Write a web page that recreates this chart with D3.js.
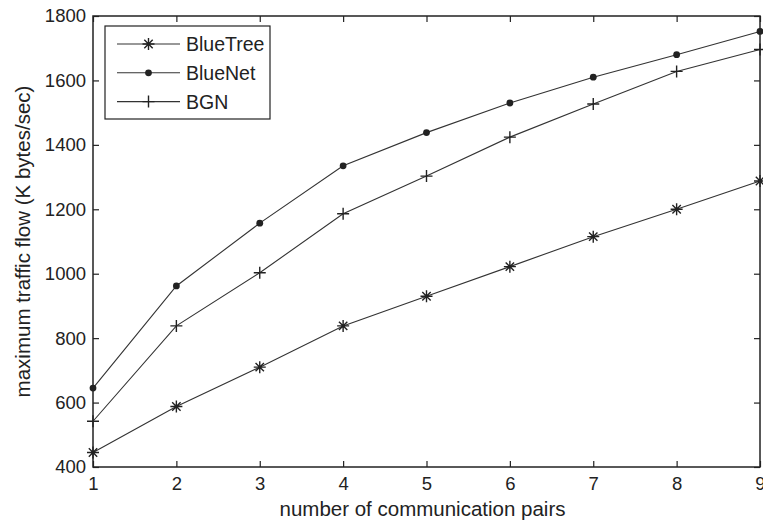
<!DOCTYPE html>
<html>
<head>
<meta charset="utf-8">
<script src="https://cdn.jsdelivr.net/npm/d3@7"></script>
<style>
  html, body { margin: 0; padding: 0; background: #fff; }
  svg { display: block; }
  text { font-family: Arial, "Liberation Sans", Helvetica, sans-serif; fill: #222; }
</style>
</head>
<body>
<svg id="chart" width="763" height="525"></svg>
<script>
// Communication pairs on the x axis
const pairs = [1, 2, 3, 4, 5, 6, 7, 8, 9];

// Maximum traffic flow (K bytes/sec) per routing scheme
const blueTree = [445, 588, 710, 838, 930, 1022, 1115, 1200, 1288];
const blueNet  = [645, 962, 1157, 1335, 1438, 1530, 1610, 1680, 1752];
const bgn      = [542, 838, 1003, 1186, 1303, 1424, 1527, 1628, 1696];

const yTicks = [400, 600, 800, 1000, 1200, 1400, 1600, 1800];
const seriesNames = ["BlueTree", "BlueNet", "BGN"];
const seriesMarkers = ["asterisk", "dot", "plus"];

const svg = d3.select("#chart");
const plotL = 93, plotR = 760, plotT = 16, plotB = 467;

const x = d3.scaleLinear().domain([1, 9]).range([plotL, plotR]);
const y = d3.scaleLinear().domain([400, 1800]).range([plotB, plotT]);

const ink = "#222";
const tickLen = 6;

// Axes with inward ticks on all four sides
const axB = d3.axisBottom(x).tickValues(pairs).tickSize(-tickLen).tickPadding(10).tickFormat(d3.format("d"));
const axT = d3.axisTop(x).tickValues(pairs).tickSize(-tickLen).tickFormat("");
const axL = d3.axisLeft(y).tickValues(yTicks).tickSize(-tickLen).tickPadding(7).tickFormat(d3.format("d"));
const axR = d3.axisRight(y).tickValues(yTicks).tickSize(-tickLen).tickFormat("");

function styleAxis(g) {
  g.select(".domain").remove();
  g.selectAll(".tick line").attr("stroke", ink).attr("stroke-width", 1.2);
  g.selectAll(".tick text").attr("fill", ink).style("font-size", "18.5px");
}

svg.append("g").attr("transform", `translate(0,${plotB})`).call(axB).call(styleAxis);
svg.append("g").attr("transform", `translate(0,${plotT})`).call(axT).call(styleAxis);
svg.append("g").attr("transform", `translate(${plotL},0)`).call(axL).call(styleAxis);
svg.append("g").attr("transform", `translate(${plotR},0)`).call(axR).call(styleAxis);

// Plot frame
svg.append("rect")
  .attr("x", plotL).attr("y", plotT)
  .attr("width", plotR - plotL).attr("height", plotB - plotT)
  .attr("fill", "none").attr("stroke", ink).attr("stroke-width", 1.5);

// Marker drawing
function drawMarker(g, type, cx, cy) {
  if (type === "dot") {
    g.append("circle").attr("cx", cx).attr("cy", cy).attr("r", 3.4).attr("fill", ink);
  } else if (type === "plus") {
    const s = 6;
    g.append("path")
      .attr("d", `M${cx - s},${cy}H${cx + s}M${cx},${cy - s}V${cy + s}`)
      .attr("stroke", ink).attr("stroke-width", 1.4).attr("fill", "none");
  } else {
    const s = 6, d = 4.2;
    g.append("path")
      .attr("d", `M${cx - s},${cy}H${cx + s}M${cx},${cy - s}V${cy + s}` +
                 `M${cx - d},${cy - d}L${cx + d},${cy + d}M${cx - d},${cy + d}L${cx + d},${cy - d}`)
      .attr("stroke", ink).attr("stroke-width", 1.4).attr("fill", "none");
  }
}

const allSeries = [blueTree, blueNet, bgn];
const line = d3.line().x((d, i) => x(pairs[i])).y(d => y(d));

allSeries.forEach((vals, k) => {
  const g = svg.append("g");
  g.append("path").datum(vals)
    .attr("d", line)
    .attr("fill", "none").attr("stroke", "#333").attr("stroke-width", 1.1);
  vals.forEach((v, i) => drawMarker(g, seriesMarkers[k], x(pairs[i]), y(v)));
});

// Legend
const lg = svg.append("g");
lg.append("rect")
  .attr("x", 105).attr("y", 26).attr("width", 165).attr("height", 93)
  .attr("fill", "#fff").attr("stroke", ink).attr("stroke-width", 1.2);
seriesNames.forEach((name, k) => {
  const ly = 44 + k * 28.8;
  lg.append("line").attr("x1", 117).attr("x2", 180).attr("y1", ly).attr("y2", ly)
    .attr("stroke", "#333").attr("stroke-width", 1.1);
  drawMarker(lg, seriesMarkers[k], 148.5, ly);
  lg.append("text").attr("x", 186).attr("y", ly).attr("dy", "0.36em")
    .style("font-size", "19.5px").text(name);
});

// Axis titles
svg.append("text")
  .attr("x", (plotL + plotR) / 2 - 4).attr("y", 516)
  .attr("text-anchor", "middle").style("font-size", "20.5px")
  .text("number of communication pairs");

svg.append("text")
  .attr("transform", `translate(30,${(plotT + plotB) / 2}) rotate(-90)`)
  .attr("text-anchor", "middle").style("font-size", "20.5px")
  .text("maximum traffic flow (K bytes/sec)");
</script>
</body>
</html>
